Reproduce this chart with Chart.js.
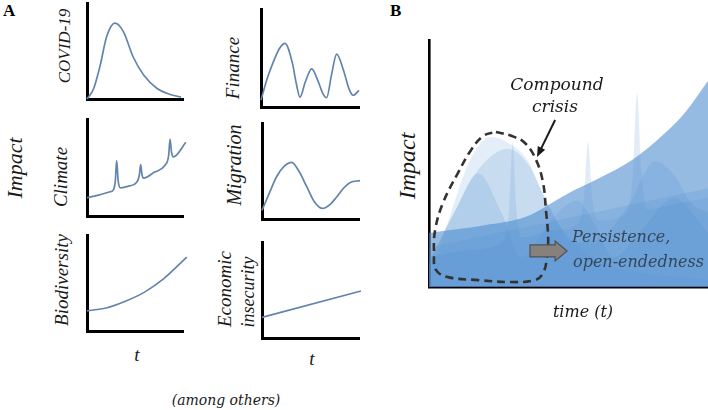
<!DOCTYPE html>
<html>
<head>
<meta charset="utf-8">
<script src="https://cdn.jsdelivr.net/npm/chart.js@4.4.1/dist/chart.umd.min.js"></script>
<style>
  html, body { margin: 0; padding: 0; background: #fff; }
  #page { position: relative; width: 708px; height: 410px; overflow: hidden; }
  canvas { position: absolute; }
  .lbl { position: absolute; white-space: nowrap; font-family: "Liberation Serif", "Times New Roman", Tinos, Times, serif; font-style: italic; color: #1a1a1a; line-height: 1; }
  .rot { transform: translate(-50%, -50%) rotate(-90deg); }
  .ctr { transform: translate(-50%, -50%); }
  .mid { transform: translate(0, -50%); }
  .panel { font-weight: bold; font-style: normal; font-size: 17px; color: #000; }
  .cam { font-family: "DejaVu Serif", serif; }
</style>
</head>
<body>
<div id="page">
  <canvas id="covid"></canvas>
  <canvas id="finance"></canvas>
  <canvas id="climate"></canvas>
  <canvas id="migration"></canvas>
  <canvas id="biodiversity"></canvas>
  <canvas id="economic"></canvas>
  <canvas id="compound"></canvas>

  <div class="lbl panel" style="left:3px; top:2px;">A</div>
  <div class="lbl panel" style="left:390px; top:2px;">B</div>

  <div class="lbl rot" style="left:15px; top:168px; font-size:22px;">Impact</div>
  <div class="lbl rot" style="left:64px; top:46px; font-size:17px;">COVID-19</div>
  <div class="lbl rot" style="left:232px; top:68px; font-size:19px;">Finance</div>
  <div class="lbl rot" style="left:60px; top:177px; font-size:19px;">Climate</div>
  <div class="lbl rot" style="left:234px; top:165px; font-size:20px;">Migration</div>
  <div class="lbl rot" style="left:61px; top:280px; font-size:19px;">Biodiversity</div>
  <div class="lbl rot" style="left:224px; top:289px; font-size:19px;">Economic</div>
  <div class="lbl rot" style="left:248px; top:292px; font-size:18px;">insecurity</div>
  <div class="lbl ctr" style="left:137px; top:354px; font-size:19px;">t</div>
  <div class="lbl ctr" style="left:312px; top:358px; font-size:19px;">t</div>
  <div class="lbl ctr cam" style="left:226px; top:400px; font-size:14px;">(among others)</div>

  <div class="lbl rot" style="left:407px; top:166px; font-size:24px;">Impact</div>
  <div class="lbl ctr cam" style="left:557px; top:84px; font-size:17px;">Compound</div>
  <div class="lbl ctr cam" style="left:555px; top:106px; font-size:17px;">crisis</div>
  <div class="lbl mid cam" style="left:572px; top:237px; font-size:16px; color:#34465a;">Persistence,</div>
  <div class="lbl mid cam" style="left:573px; top:262px; font-size:16px; color:#34465a;">open-endedness</div>
  <div class="lbl ctr cam" style="left:583px; top:312px; font-size:16px;">time (t)</div>
</div>

<script>
// Panel A: one stylised impact curve per crisis (t from 0 to 10, impact 0..1)
const covidT = [0, 0.7, 1.35, 2.05, 2.9, 3.8, 4.8, 5.9, 7.3, 8.6, 9.8];
const covidY = [0.0, 0.11, 0.34, 0.65, 0.79, 0.70, 0.44, 0.25, 0.11, 0.05, 0.02];

const financeT = [0, 0.6, 1.3, 1.9, 2.45, 3.2, 3.6, 3.98, 4.5, 5.17, 5.8, 6.3, 6.7, 7.2, 7.72, 8.4, 9.0, 9.4, 10];
const financeY = [0.07, 0.28, 0.47, 0.60, 0.65, 0.45, 0.24, 0.10, 0.25, 0.39, 0.27, 0.14, 0.095, 0.33, 0.54, 0.38, 0.18, 0.12, 0.17];

const climateT = [0, 1.2, 2.4, 2.75, 2.95, 3.09, 3.25, 3.5, 4.4, 5.2, 5.45, 5.59, 5.72, 5.9, 7.0, 8.1, 8.5, 8.65, 8.8, 9.0, 10.3];
const climateY = [0.19, 0.215, 0.25, 0.27, 0.36, 0.57, 0.36, 0.29, 0.31, 0.35, 0.42, 0.53, 0.43, 0.39, 0.45, 0.52, 0.62, 0.79, 0.66, 0.61, 0.76];

const migrationT = [0, 0.8, 1.5, 2.3, 3.06, 3.8, 4.6, 5.4, 6.25, 7.0, 7.7, 8.4, 9.1, 10.1];
const migrationY = [0.09, 0.28, 0.44, 0.55, 0.59, 0.50, 0.34, 0.18, 0.11, 0.15, 0.23, 0.32, 0.38, 0.40];

const biodiversityT = [0, 2, 4, 6, 8, 10.4];
const biodiversityY = [0.21, 0.24, 0.31, 0.405, 0.545, 0.77];

const economicT = [0, 10.2];
const economicY = [0.215, 0.49];

// Panel B: the same crises stacked as translucent areas (t 0..10, impact 0..10)
const bCovidT = [0, 0.7, 1.3, 1.8, 2.22, 2.9, 3.55, 3.9, 4.5, 5.2, 6.2, 7.5, 10];
const bCovidY = [0.3, 2.7, 4.7, 5.75, 6.07, 5.8, 5.1, 4.2, 2.8, 1.8, 1.0, 0.6, 0.3];

const bMigrationT = [0, 0.8, 1.8, 2.83, 3.6, 4.3, 5.2, 6.2, 7.2, 8.1, 8.8, 9.4, 10];
const bMigrationY = [1.0, 2.8, 4.8, 5.6, 4.9, 3.3, 1.8, 2.0, 3.4, 5.1, 4.5, 3.4, 3.0];

const bFinanceT = [0, 0.9, 1.76, 2.6, 3.3, 4.3, 5.3, 6.0, 6.6, 7.6, 8.8, 9.5, 10];
const bFinanceY = [1.0, 3.0, 4.6, 3.0, 1.2, 2.6, 3.5, 2.4, 1.2, 2.3, 3.6, 2.9, 2.2];

const bClimateT = [0, 1.5, 2.7, 2.88, 3.0, 3.12, 3.3, 4.5, 5.35, 5.55, 5.7, 5.85, 6.05, 7.1, 7.3, 7.46, 7.62, 7.8, 9, 10];
const bClimateY = [1.2, 1.5, 1.9, 3.3, 5.87, 3.3, 2.0, 2.3, 2.55, 3.6, 5.87, 3.6, 2.7, 3.0, 4.5, 7.85, 4.6, 3.15, 3.4, 3.6];

const bBiodiversityT = [0, 2, 3.44, 5, 6, 7.28, 8.46, 9.2, 10];
const bBiodiversityY = [2.19, 2.5, 2.83, 3.8, 4.35, 5.14, 6.23, 7.1, 8.35];

const bEconomicT = [0, 10];
const bEconomicY = [1.6, 4.0];

// dashed "compound crisis" outline, in panel B data units
const outlineT = [2.4, 2.95, 3.44, 3.84, 4.09, 4.19, 4.27, 4.23, 4.09, 3.80, 2.94, 1.76, 0.68, 0.25, 0.18, 0.22, 0.50, 1.04, 1.51, 1.95, 2.4];
const outlineY = [6.28, 6.12, 5.83, 5.14, 4.21, 3.12, 2.02, 1.21, 0.57, 0.28, 0.20, 0.28, 0.40, 0.69, 1.38, 2.31, 3.40, 4.62, 5.55, 6.12, 6.28];

// arrows (panel B data units)
const crisisArrow = { from: [4.52, 6.76], to: [3.87, 5.26] };
const persistArrow = { from: 3.62, neck: 4.52, tip: 4.95, at: 1.46 };

const lineColor = '#6384ac';

function points(t, y) {
    return t.map((v, i) => ({ x: v, y: y[i] }));
}

function hiddenAxis(min, max, width) {
    return {
        type: 'linear',
        min: min,
        max: max,
        ticks: { display: false },
        grid: { display: false, drawTicks: false },
        border: { display: true, color: '#000', width: width }
    };
}

function placeCanvas(id, box, pad) {
    const cv = document.getElementById(id);
    cv.width = box.right - box.left + pad.left + pad.right;
    cv.height = box.bottom - box.top + pad.top + pad.bottom;
    cv.style.left = (box.left - pad.left) + 'px';
    cv.style.top = (box.top - pad.top) + 'px';
    return cv;
}

function smallChart(id, box, t, y) {
    const pad = { left: 4, right: 6, top: 4, bottom: 4 };
    const cv = placeCanvas(id, box, pad);
    new Chart(cv, {
        type: 'line',
        data: {
            datasets: [{
                data: points(t, y),
                borderColor: lineColor,
                borderWidth: 1.7,
                pointRadius: 0,
                fill: false,
                cubicInterpolationMode: 'monotone',
                clip: 6
            }]
        },
        options: {
            responsive: false,
            animation: false,
            events: [],
            layout: { padding: pad },
            plugins: { legend: { display: false }, tooltip: { enabled: false } },
            scales: { x: hiddenAxis(0, 10, 3), y: hiddenAxis(0, 1, 3) }
        }
    });
}

document.addEventListener("DOMContentLoaded", function() {
    smallChart('covid', { left: 87, top: 3, right: 183, bottom: 99 }, covidT, covidY);
    smallChart('finance', { left: 261, top: 9, right: 359, bottom: 107 }, financeT, financeY);
    smallChart('climate', { left: 87, top: 119, right: 183, bottom: 216 }, climateT, climateY);
    smallChart('migration', { left: 262, top: 123, right: 359, bottom: 219 }, migrationT, migrationY);
    smallChart('biodiversity', { left: 87, top: 235, right: 183, bottom: 331 }, biodiversityT, biodiversityY);
    smallChart('economic', { left: 262, top: 242, right: 359, bottom: 338 }, economicT, economicY);

    // Panel B
    const arrows = {
        id: 'arrows',
        afterDatasetsDraw(chart) {
            const { ctx, scales: { x, y } } = chart;
            ctx.save();

            // thin black arrow pointing at the outline
            const x0 = x.getPixelForValue(crisisArrow.from[0]);
            const y0 = y.getPixelForValue(crisisArrow.from[1]);
            const x1 = x.getPixelForValue(crisisArrow.to[0]);
            const y1 = y.getPixelForValue(crisisArrow.to[1]);
            const ang = Math.atan2(y1 - y0, x1 - x0);
            const head = 11;
            ctx.strokeStyle = '#1a1a1a';
            ctx.fillStyle = '#1a1a1a';
            ctx.lineWidth = 2;
            ctx.beginPath();
            ctx.moveTo(x0, y0);
            ctx.lineTo(x1 - Math.cos(ang) * head * 0.8, y1 - Math.sin(ang) * head * 0.8);
            ctx.stroke();
            ctx.beginPath();
            ctx.moveTo(x1, y1);
            ctx.lineTo(x1 - head * Math.cos(ang - 0.38), y1 - head * Math.sin(ang - 0.38));
            ctx.lineTo(x1 - head * Math.cos(ang + 0.38), y1 - head * Math.sin(ang + 0.38));
            ctx.closePath();
            ctx.fill();

            // grey block arrow "persistence"
            const ax0 = x.getPixelForValue(persistArrow.from);
            const axn = x.getPixelForValue(persistArrow.neck);
            const axt = x.getPixelForValue(persistArrow.tip);
            const ay = y.getPixelForValue(persistArrow.at);
            ctx.beginPath();
            ctx.moveTo(ax0, ay - 6);
            ctx.lineTo(axn, ay - 6);
            ctx.lineTo(axn, ay - 10);
            ctx.lineTo(axt, ay);
            ctx.lineTo(axn, ay + 10);
            ctx.lineTo(axn, ay + 6);
            ctx.lineTo(ax0, ay + 6);
            ctx.closePath();
            ctx.fillStyle = '#86817b';
            ctx.fill();
            ctx.lineWidth = 1.2;
            ctx.strokeStyle = '#4f5258';
            ctx.stroke();
            ctx.restore();
        }
    };

    const padB = { left: 4, right: 0, top: 4, bottom: 4 };
    const cvB = placeCanvas('compound', { left: 429, top: 40, right: 708, bottom: 287 }, padB);

    function area(t, y, alpha) {
        return {
            data: points(t, y),
            backgroundColor: 'rgba(74, 138, 206, ' + alpha + ')',
            borderWidth: 0,
            pointRadius: 0,
            fill: 'origin',
            cubicInterpolationMode: 'monotone'
        };
    }

    new Chart(cvB, {
        type: 'line',
        data: {
            datasets: [
                {
                    data: points(outlineT, outlineY),
                    borderColor: '#333',
                    borderWidth: 2.6,
                    borderDash: [8, 5],
                    pointRadius: 0,
                    fill: false,
                    tension: 0.4
                },
                area(bCovidT, bCovidY, 0.15),
                area(bMigrationT, bMigrationY, 0.18),
                area(bFinanceT, bFinanceY, 0.18),
                area(bClimateT, bClimateY, 0.16),
                area(bEconomicT, bEconomicY, 0.2),
                area(bBiodiversityT, bBiodiversityY, 0.58)
            ]
        },
        options: {
            responsive: false,
            animation: false,
            events: [],
            layout: { padding: padB },
            plugins: { legend: { display: false }, tooltip: { enabled: false } },
            scales: { x: hiddenAxis(0, 10, 2.6), y: hiddenAxis(0, 10, 2.6) }
        },
        plugins: [arrows]
    });
});
</script>
</body>
</html>
